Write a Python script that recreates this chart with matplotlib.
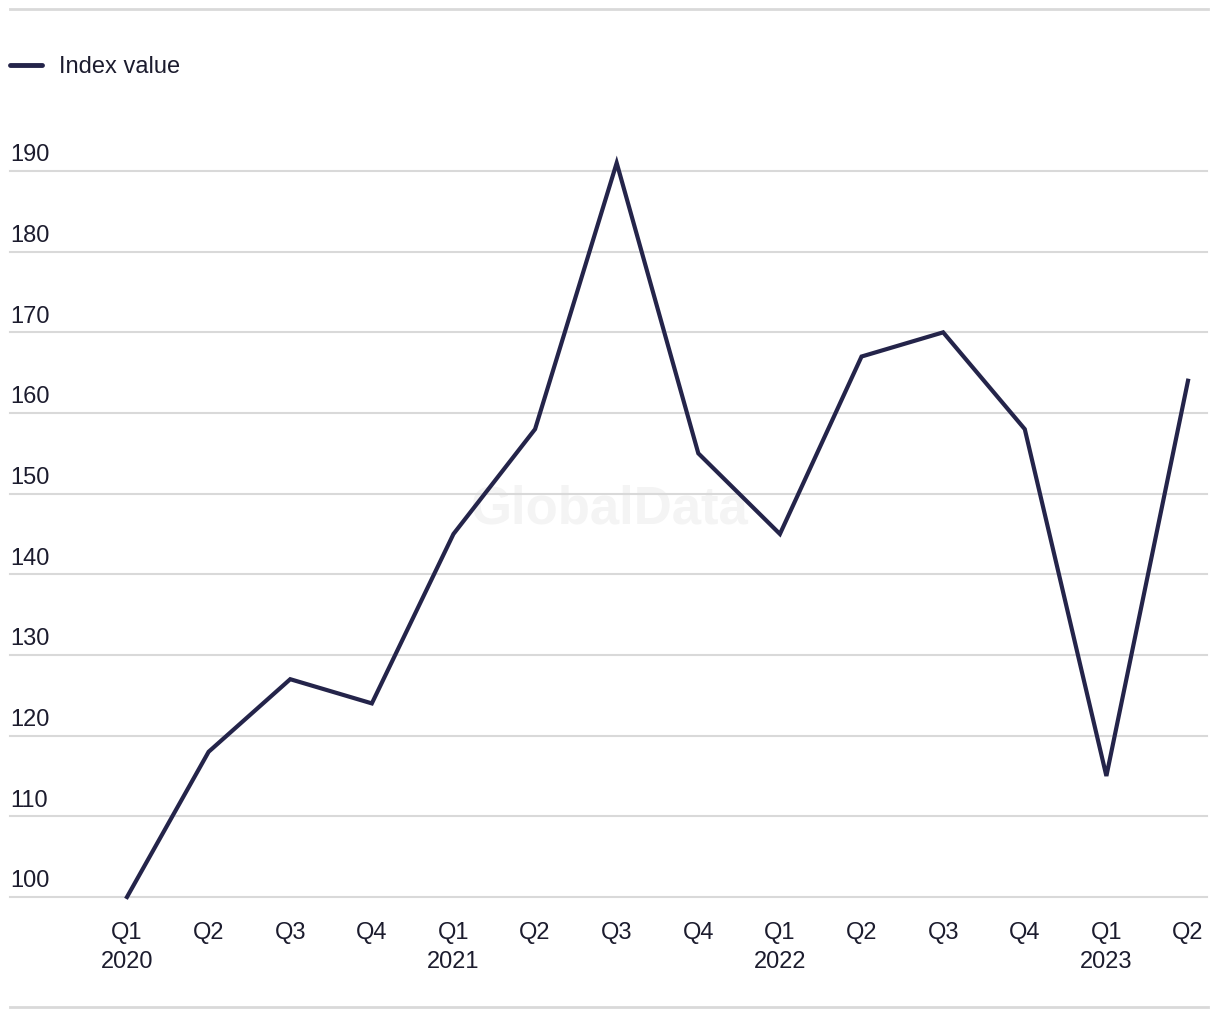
import numpy as np
import matplotlib
matplotlib.use("Agg")
import matplotlib.pyplot as plt
import matplotlib.transforms as mtransforms
from matplotlib.lines import Line2D

plt.rcParams['font.family'] = ['Liberation Sans', 'DejaVu Sans']

# data
quarters = ['Q1', 'Q2', 'Q3', 'Q4', 'Q1', 'Q2', 'Q3', 'Q4',
            'Q1', 'Q2', 'Q3', 'Q4', 'Q1', 'Q2']
years = ['2020', '', '', '', '2021', '', '', '',
         '2022', '', '', '', '2023', '']
index_value = [100, 118, 127, 124, 145, 158, 191, 155,
               145, 167, 170, 158, 115, 164]
y_ticks = [100, 110, 120, 130, 140, 150, 160, 170, 180, 190]

line_color = '#24244a'
grid_color = '#d9d9d9'
text_color = '#1c1c2e'

W, H = 1220, 1020
fig = plt.figure(figsize=(W / 100, H / 100), dpi=100)

# axes: left 10px, right 1207px, bottom (y=100) at 898px, y=190 at 172px
px_per_unit = (898 - 172) / 90
y_top = 195
ax_top_px = 172 - (y_top - 190) * px_per_unit
ax = fig.add_axes([10 / W, 1 - 898 / H, (1207 - 10) / W, (898 - ax_top_px) / H])

x = np.arange(len(index_value))
step = (1188 - 127) / 13
ax.set_xlim(-(127 - 10) / step, 13 + (1207 - 1188) / step)
ax.set_ylim(100, y_top)

for s in ax.spines.values():
    s.set_visible(False)

for v in y_ticks:
    ax.axhline(v, color=grid_color, lw=1.5, zorder=1, clip_on=False)

ax.plot(x, index_value, color=line_color, lw=3, zorder=3, clip_on=False,
        solid_joinstyle='miter')

# y labels sit above their gridlines on the left
trans = mtransforms.blended_transform_factory(ax.transAxes, ax.transData)
for v in y_ticks:
    ax.text(0, v + 0.7, str(v), transform=trans, ha='left', va='bottom',
            fontsize=17, color=text_color)
ax.set_yticks([])

labels = [q + ('\n' + y if y else '') for q, y in zip(quarters, years)]
ax.set_xticks(x)
ax.set_xticklabels(labels, fontsize=17, color=text_color, va='top',
                   linespacing=1.45)
ax.tick_params(axis='x', length=0, pad=17)

# watermark
ax.text(0.5, 0.5, 'GlobalData', transform=fig.transFigure, ha='center',
        va='center', fontsize=38, fontweight='bold', color='#f4f4f4', zorder=0)

# top and bottom rules
for ypx in (10, 1008):
    fig.add_artist(Line2D([10 / W, 1208 / W], [1 - ypx / H, 1 - ypx / H],
                          color=grid_color, lw=2))

# legend
fig.add_artist(Line2D([10 / W, 42 / W], [1 - 66 / H, 1 - 66 / H],
                      color=line_color, lw=3.5, solid_capstyle='round'))
fig.text(59 / W, 1 - 67 / H, 'Index value', ha='left', va='center',
         fontsize=17, color=text_color)

fig.savefig('out.png', dpi=100)
